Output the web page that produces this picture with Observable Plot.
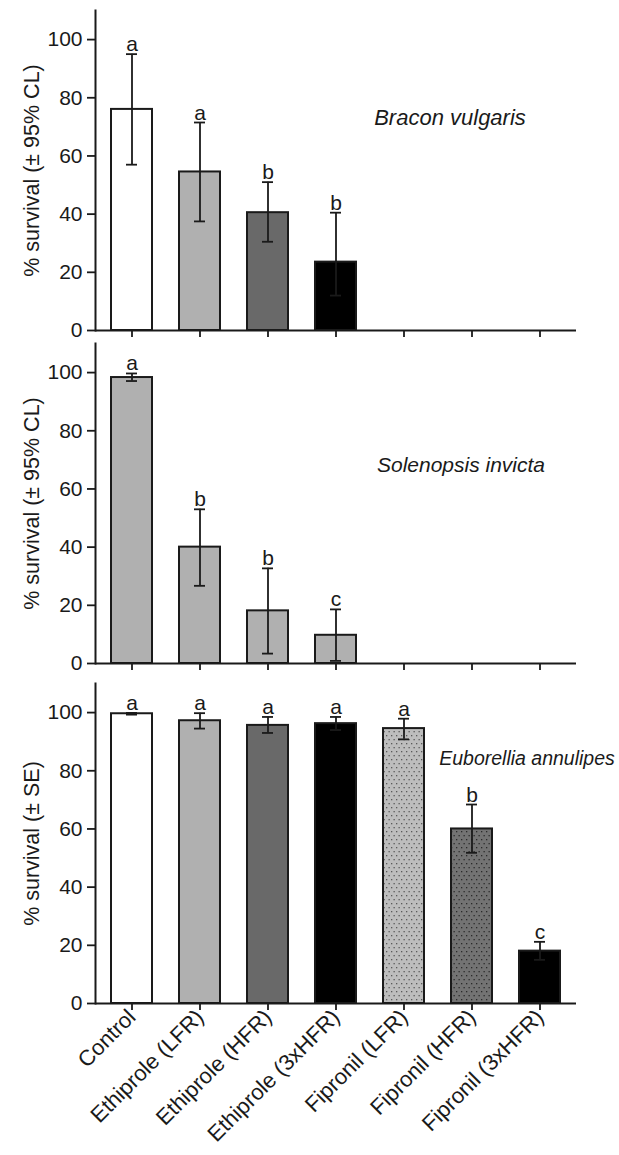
<!DOCTYPE html>
<html>
<head>
<meta charset="utf-8">
<script src="https://cdn.jsdelivr.net/npm/d3@7"></script>
<script src="https://cdn.jsdelivr.net/npm/@observablehq/plot@0.6"></script>
<style>
  html, body { margin: 0; padding: 0; background: white; }
  #chart svg { display: block; }
</style>
</head>
<body>
<svg width="0" height="0" style="position:absolute">
  <defs>
    <pattern id="dotLight" width="5" height="8" patternUnits="userSpaceOnUse">
      <rect width="5" height="8" fill="#bdbdbd"></rect>
      <rect x="1" y="1" width="1.3" height="1.3" fill="#5a5a5a"></rect>
      <rect x="3.5" y="5" width="1.3" height="1.3" fill="#5a5a5a"></rect>
    </pattern>
    <pattern id="dotDark" width="5" height="8" patternUnits="userSpaceOnUse">
      <rect width="5" height="8" fill="#737373"></rect>
      <rect x="1" y="1" width="1.3" height="1.3" fill="#2a2a2a"></rect>
      <rect x="3.5" y="5" width="1.3" height="1.3" fill="#2a2a2a"></rect>
    </pattern>
  </defs>
</svg>
<div id="chart"></div>
<script>
const treatments = ["Control", "Ethiprole (LFR)", "Ethiprole (HFR)", "Ethiprole (3xHFR)", "Fipronil (LFR)", "Fipronil (HFR)", "Fipronil (3xHFR)"];

// Panel 1: Bracon vulgaris (± 95% CL)
const braconMean = [76, 54.5, 40.5, 23.5];
const braconLow = [57, 37.5, 30.5, 12];
const braconHigh = [95, 71.5, 51, 40.5];
const braconLetters = ["a", "a", "b", "b"];
const braconFill = ["white", "#b0b0b0", "#696969", "black"];

// Panel 2: Solenopsis invicta (± 95% CL)
const solenMean = [98.3, 40, 18.1, 9.7];
const solenLow = [97.1, 26.7, 3.4, 0.9];
const solenHigh = [99.7, 53, 32.7, 18.6];
const solenLetters = ["a", "b", "b", "c"];
const solenFill = ["#b0b0b0", "#b0b0b0", "#b0b0b0", "#b0b0b0"];

// Panel 3: Euborellia annulipes (± SE)
const eubMean = [99.6, 97.2, 95.6, 96.2, 94.5, 60, 18];
const eubLow = [99.3, 94.5, 93, 94, 90.8, 51.8, 15];
const eubHigh = [99.9, 99.8, 98.5, 98.5, 97.9, 68.4, 21.2];
const eubLetters = ["a", "a", "a", "a", "a", "b", "c"];
const eubFill = ["white", "#b0b0b0", "#696969", "black", "url(#dotLight)", "url(#dotDark)", "black"];

const yTicks = [0, 20, 40, 60, 80, 100];
const FONT = "Arial, 'Liberation Sans', Helvetica, sans-serif";
const INK = "#1a1a1a";

function rows(mean, lo, hi, letters, fills) {
  return mean.map((v, i) => ({t: treatments[i], v, lo: lo[i], hi: hi[i], letter: letters[i], fill: fills[i]}));
}

function panel({data, yLabel, species, speciesAt, height, marginTop, marginBottom, showLabels}) {
  return Plot.plot({
    width: 619,
    height,
    marginLeft: 95,
    marginRight: 43,
    marginTop,
    marginBottom,
    style: {fontFamily: FONT, fontSize: "21px", color: INK, background: "white", overflow: "visible"},
    x: {domain: treatments, paddingInner: 0.4, paddingOuter: 0.2, axis: null},
    y: {domain: [0, 110], axis: null},
    color: {type: "identity"},
    marks: [
      Plot.barY(data, {x: "t", y: "v", fill: "fill", stroke: INK, strokeWidth: 2}),
      Plot.ruleX(data, {x: "t", y1: "lo", y2: "hi", stroke: INK, strokeWidth: 1.8}),
      Plot.tickY(data, {x: "t", y: "hi", stroke: INK, strokeWidth: 1.8, insetLeft: 15, insetRight: 15}),
      Plot.tickY(data, {x: "t", y: "lo", stroke: INK, strokeWidth: 1.8, insetLeft: 15, insetRight: 15}),
      Plot.text(data, {x: "t", y: "hi", text: "letter", lineAnchor: "bottom", dy: -3, fontSize: 21, fill: INK}),
      Plot.axisY({ticks: yTicks, tickSize: 8, tickPadding: 5, fontSize: 21, label: null, stroke: INK, strokeWidth: 1.8}),
      Plot.axisX({tickSize: 7, strokeWidth: 1.8, stroke: INK, label: null, fontSize: 22,
        tickPadding: 3,
        tickRotate: showLabels ? -45 : 0,
        tickFormat: showLabels ? (d => d) : (() => "")}),
      Plot.frame({anchor: "left", stroke: INK, strokeWidth: 2}),
      Plot.ruleY([0], {stroke: INK, strokeWidth: 2}),
      Plot.text([yLabel], {frameAnchor: "left", dx: -63, rotate: -90, textAnchor: "middle", text: d => d, fontSize: 21.5, fill: INK}),
      Plot.text([species], {x: () => speciesAt.x, y: () => speciesAt.y, dx: speciesAt.dx, text: d => d, fontSize: speciesAt.size, fontStyle: "italic", fill: INK})
    ]
  });
}

const chart = document.getElementById("chart");
chart.append(panel({
  data: rows(braconMean, braconLow, braconHigh, braconLetters, braconFill),
  yLabel: "% survival (± 95% CL)",
  species: "Bracon vulgaris",
  speciesAt: {x: "Fipronil (LFR)", y: 73, dx: 46, size: 22},
  height: 337, marginTop: 10, marginBottom: 7, showLabels: false
}));
chart.append(panel({
  data: rows(solenMean, solenLow, solenHigh, solenLetters, solenFill),
  yLabel: "% survival (± 95% CL)",
  species: "Solenopsis invicta",
  speciesAt: {x: "Fipronil (LFR)", y: 68, dx: 57, size: 21},
  height: 333, marginTop: 6, marginBottom: 7, showLabels: false
}));
chart.append(panel({
  data: rows(eubMean, eubLow, eubHigh, eubLetters, eubFill),
  yLabel: "% survival (± SE)",
  species: "Euborellia annulipes",
  speciesAt: {x: "Fipronil (HFR)", y: 84.3, dx: 55, size: 19.5},
  height: 485, marginTop: 13, marginBottom: 152, showLabels: true
}));
</script>
</body>
</html>
